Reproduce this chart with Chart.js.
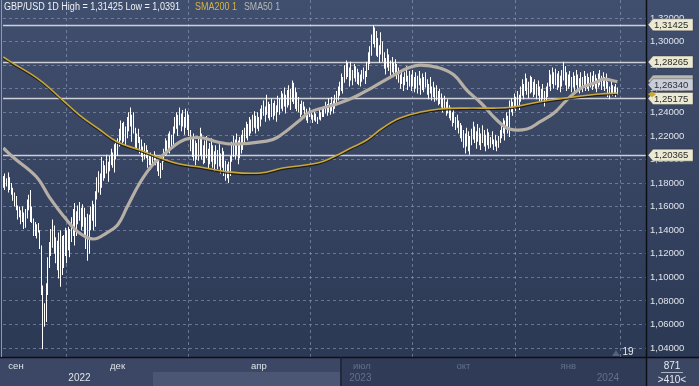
<!DOCTYPE html>
<html>
<head>
<meta charset="utf-8">
<script src="https://cdn.jsdelivr.net/npm/chart.js@4.4.1/dist/chart.umd.min.js"></script>
<style>
html,body{margin:0;padding:0;background:#34415e;overflow:hidden}
</style>
</head>
<body>
<canvas id="chart" width="699" height="386"></canvas>
<script>
// bar index 0 = 1 Sep 2022, one index per trading day
const firstIndex = -8

const highs = [
1.186,1.188,1.184,1.189,1.185,1.180, 1.176,1.172,1.169,
1.161,1.160,1.157,1.160,1.155, 1.158,1.166,1.170,1.174,1.160,
1.150,1.147,1.145,1.146,1.140, 1.127,1.093,1.078,1.095,1.117,
1.130,1.141,1.149,1.144,1.134, 1.131,1.138,1.140,1.135,1.136,
1.142,1.140,1.143,1.141, 1.151,1.158,1.163,1.156, 1.161,1.164,1.159,1.162,
1.159,1.151,1.154,1.153, 1.160,1.165,1.162,1.173, 1.185,1.190,1.188,1.202,
1.199,1.195,1.204,1.198,1.203, 1.209,1.206,1.213,1.216,
1.218,1.226,1.233,1.231,1.232,1.228, 1.236,1.240,1.244,1.238,1.240,
1.227,1.222,1.226,1.219, 1.217,1.211,1.214,1.212,
1.208,1.203,1.206,1.204,1.207,1.204, 1.200,1.202,1.197,1.199,
1.209,1.218,1.216,1.222,1.224,1.221,1.228,
1.236,1.240,1.238,1.244,1.239,1.242,1.236,1.243,1.241,1.238,
1.225,1.219,1.222,1.216,1.214,
1.218,1.227,1.222,1.212,1.216,1.220,1.209,1.214,1.218,1.212,1.207,
1.212,1.208,1.213,1.205,1.210,1.207,1.199,1.196,1.198,1.203,
1.215,1.220,1.217,1.222,1.216,1.219,1.221,1.225,
1.227,1.232,1.230,1.236,1.234,1.238,1.241,1.237,1.240,1.236,1.243,
1.246,1.250,1.245,1.255,1.249,1.247,1.252,1.248,1.250,1.246,
1.254,1.252,1.258,1.256,1.261,1.255,1.259,1.263,1.260,1.267,1.265,1.261,1.257,
1.253,1.247,1.250,1.249,
1.245,1.243,1.240,1.244,1.242,1.238,1.241,1.239,1.236,1.242,1.240,1.243,
1.245,1.249,1.247,1.252,1.248,1.253,1.250,1.255,1.258,
1.262,1.266,1.273,1.270,
1.280,1.284,1.282,1.278,1.283,1.276,1.281,1.279,1.277,
1.274,1.272,1.276,1.278,1.275,1.283,
1.291,1.296,1.306,1.314,1.312,1.309,
1.303,1.297,1.308,1.300,
1.291,1.286,1.294,1.289,1.284,1.287,1.282,1.285,1.281,
1.278,1.272,1.276,1.270,1.274,1.279,1.271,1.275,
1.272,1.276,1.270,1.274,1.271,1.275,1.269,1.273,1.270,1.274,
1.268,1.264,1.270,1.262,1.266,1.261,1.263,1.258,1.260,
1.256,1.252,1.254,1.249,1.251,1.246,
1.244,1.240,1.242,1.236,1.238,1.233,1.231,
1.229,1.225,1.222,1.227,1.224,1.220,
1.226,1.232,1.228,1.224,1.230,1.227,1.222,1.229,1.225,1.221,1.226,1.223,
1.219,1.224,1.217,1.221,1.216,1.220,1.225,
1.230,1.235,1.233,1.240,1.237,1.250,
1.252,1.249,1.256,1.253,1.258,1.255,
1.262,1.268,1.264,1.273,1.269,1.266,1.271,
1.270,1.266,1.268,1.264,1.267,1.262,
1.260,1.264,1.258,1.262,1.265,
1.276,1.272,1.278,1.274,1.277,1.273,1.275,1.271,
1.276,1.283,1.279,1.274,
1.272,1.275,1.270,1.274,1.271,1.276,1.272,1.269,1.274,1.270,1.275,1.271,1.273,
1.270,1.274,1.271,1.275,1.272,1.269,1.273,1.276,1.271,1.274,1.270,1.273,
1.266,1.262,1.268,1.263,1.262,1.264,1.261
]

const lows = [
1.176,1.174,1.177,1.172,1.174,1.170, 1.165,1.160,1.157,
1.149,1.151,1.145,1.147,1.141, 1.142,1.150,1.157,1.147,1.146,
1.135,1.135,1.133,1.138,1.124, 1.085,1.039,1.058,1.062,1.085,
1.108,1.118,1.125,1.120,1.112, 1.106,1.099,1.092,1.102,1.108,
1.118,1.112,1.123,1.117, 1.130,1.135,1.127,1.135, 1.145,1.148,1.140,1.143,
1.134,1.124,1.114,1.120, 1.140,1.148,1.140,1.143, 1.166,1.172,1.170,1.176,
1.182,1.184,1.188,1.181,1.190, 1.195,1.193,1.189,1.200,
1.203,1.211,1.216,1.214,1.215,1.212, 1.218,1.224,1.228,1.215,1.222,
1.210,1.208,1.214,1.205, 1.202,1.198,1.200,1.201,
1.193,1.195,1.191,1.196,1.199,1.195, 1.190,1.186,1.184,1.191,
1.198,1.203,1.204,1.208,1.205,1.210,1.212,
1.222,1.226,1.220,1.229,1.224,1.228,1.221,1.227,1.225,1.220,
1.207,1.202,1.199,1.195,1.200,
1.199,1.203,1.200,1.196,1.197,1.201,1.192,1.196,1.198,1.193,1.190,
1.196,1.192,1.194,1.188,1.193,1.186,1.182,1.184,1.180,1.186,
1.198,1.202,1.200,1.204,1.196,1.201,1.205,1.208,
1.213,1.218,1.216,1.220,1.222,1.224,1.227,1.222,1.226,1.224,1.228,
1.234,1.237,1.232,1.238,1.235,1.233,1.236,1.234,1.237,1.232,
1.240,1.238,1.243,1.241,1.245,1.239,1.244,1.246,1.242,1.249,1.247,1.243,1.241,
1.240,1.236,1.238,1.242,
1.235,1.233,1.231,1.236,1.234,1.231,1.233,1.232,1.230,1.234,1.233,1.236,
1.236,1.239,1.237,1.240,1.238,1.241,1.239,1.243,1.246,
1.250,1.254,1.258,1.256,
1.265,1.268,1.270,1.262,1.267,1.263,1.269,1.266,1.264,
1.263,1.262,1.266,1.268,1.264,1.270,
1.276,1.281,1.288,1.298,1.295,1.288,
1.287,1.282,1.289,1.283,
1.277,1.272,1.278,1.275,1.271,1.274,1.270,1.273,1.268,
1.265,1.260,1.264,1.258,1.263,1.266,1.259,1.262,
1.258,1.262,1.257,1.260,1.256,1.263,1.255,1.259,1.257,1.261,
1.255,1.251,1.256,1.250,1.253,1.249,1.250,1.246,1.247,
1.244,1.240,1.242,1.237,1.239,1.235,
1.233,1.228,1.231,1.225,1.227,1.222,1.218,
1.215,1.210,1.205,1.211,1.207,1.204,
1.212,1.217,1.214,1.209,1.215,1.212,1.208,1.214,1.211,1.207,1.212,1.209,
1.210,1.213,1.208,1.211,1.207,1.210,1.214,
1.218,1.222,1.216,1.226,1.222,1.219,
1.240,1.237,1.243,1.241,1.245,1.242,
1.249,1.254,1.251,1.258,1.255,1.252,1.256,
1.257,1.253,1.255,1.251,1.254,1.249,
1.248,1.251,1.245,1.249,1.253,
1.262,1.258,1.264,1.260,1.263,1.259,1.261,1.257,
1.262,1.267,1.263,1.258,
1.260,1.262,1.257,1.261,1.258,1.263,1.259,1.256,1.261,1.257,1.262,1.258,1.260,
1.258,1.261,1.259,1.262,1.260,1.257,1.261,1.263,1.259,1.262,1.258,1.260,
1.253,1.251,1.255,1.254,1.256,1.253,1.255
]

const sma50Index = [-8,-2,13,21,32,40,49,57,64,70,78,86,95,103,110,118,127,137,158,165,179,185,200,212,225,236,247,255,267,276,284,293,303,311,322,330,339,347,356,366,370,379]
const sma50 = [1.2097,1.2021,1.1851,1.1681,1.1486,1.1376,1.1325,1.1376,1.1444,1.1596,1.1800,1.1953,1.2063,1.2148,1.2182,1.2182,1.2148,1.2131,1.2156,1.2190,1.2335,1.2402,1.2462,1.2521,1.2614,1.2699,1.2776,1.2801,1.2776,1.2716,1.2589,1.2479,1.2335,1.2258,1.2258,1.2318,1.2394,1.2504,1.2606,1.2657,1.2682,1.2660]

const sma200Index = [-8,-2,15,28,40,53,64,78,91,103,116,135,154,168,190,200,211,221,231,242,255,267,284,301,313,326,337,351,368,379]
const sma200 = [1.2869,1.2818,1.2674,1.2521,1.2377,1.2250,1.2148,1.2080,1.2012,1.1961,1.1936,1.1893,1.1885,1.1927,1.1970,1.2021,1.2097,1.2165,1.2267,1.2351,1.2402,1.2428,1.2436,1.2436,1.2445,1.2479,1.2504,1.2530,1.2555,1.2564]

const levels = [1.31425,1.28265,1.25175,1.20365]
const lastPrice = 1.2634
const sma50Last = 1.2665
const sma200Last = 1.2553

const yTicks = [1.04,1.06,1.08,1.10,1.12,1.14,1.16,1.18,1.20,1.22,1.24,1.26,1.28,1.30,1.32]
const monthIndex = [0,64,153,218,282,348]
const monthLabels = ['сен','дек','апр','июл','окт','янв']
const yearIndex = [40,217,373]
const yearLabels = ['2022','2023','2024']

const FONT = "'Liberation Sans', Arial, sans-serif"
const fmt = v => v.toFixed(5).replace('.', ',')

const bars = highs.map((h,k)=>({x:firstIndex+k, y:[lows[k], h]}))

// draws text squeezed to a given width (the source uses a narrow UI font)
const fitText = (ctx, text, x0, y0, width, color) => {
const w = ctx.measureText(text).width
ctx.save()
ctx.translate(x0,y0)
ctx.scale(width/w,1)
ctx.fillStyle = color
ctx.fillText(text,0,0)
ctx.restore()
}

const bgPlugin = {
id:'bg',
beforeDraw(chart){
const {ctx, width, height, chartArea:a} = chart
ctx.save()
const g = ctx.createLinearGradient(0,0,0,a.bottom)
g.addColorStop(0,'#414f6e')
g.addColorStop(1,'#2c3955')
ctx.fillStyle = g
ctx.fillRect(0,0,width,a.bottom)
ctx.fillStyle = '#3b4764'
ctx.fillRect(0,a.bottom,width,height-a.bottom)
ctx.fillStyle = '#303c57'
ctx.fillRect(340,a.bottom,a.right-340,height-a.bottom)
ctx.fillStyle = '#4a5673'
ctx.fillRect(153,372,187,height-372)
ctx.fillStyle = '#3a4662'
ctx.fillRect(a.right,a.bottom,width-a.right,height-a.bottom)
ctx.restore()
},
beforeDatasetsDraw(chart){
const {ctx, chartArea:a, scales:{y}} = chart
ctx.save()
ctx.strokeStyle = '#cdd0d6'
ctx.lineWidth = 1.3
levels.forEach(v=>{
const py = Math.round(y.getPixelForValue(v))+0.5
ctx.beginPath(); ctx.moveTo(a.left,py); ctx.lineTo(a.right,py); ctx.stroke()
})
ctx.restore()
},
beforeDatasetDraw(chart, args){
const meta = args.meta
if (meta.type === 'bar') {
// snap the 1px bars to whole pixels so they stay crisp
meta.data.forEach(el=>{ el.x = Math.floor(el.x) + 0.5 })
}
if (meta.label === 'SMA200') {
chart.ctx.save()
chart.ctx.shadowColor = 'rgba(25,22,10,0.85)'
chart.ctx.shadowOffsetY = 1.2
chart.ctx.shadowBlur = 0
}
},
afterDatasetDraw(chart, args){
if (args.meta.label === 'SMA200') chart.ctx.restore()
},
afterDraw(chart){
const {ctx, width, height, chartArea:a, scales:{x,y}} = chart
ctx.save()
// frame lines
ctx.strokeStyle = '#0c0f16'
ctx.lineWidth = 1.5
ctx.beginPath(); ctx.moveTo(0,a.bottom+0.5); ctx.lineTo(width,a.bottom+0.5); ctx.stroke()
ctx.beginPath(); ctx.moveTo(a.right+0.5,0); ctx.lineTo(a.right+0.5,height); ctx.stroke()
ctx.strokeStyle = '#1b2232'
ctx.beginPath(); ctx.moveTo(341,a.bottom); ctx.lineTo(341,height); ctx.stroke()
ctx.strokeStyle = '#8d99b0'
ctx.lineWidth = 1
ctx.beginPath(); ctx.moveTo(1.5,0); ctx.lineTo(1.5,a.bottom); ctx.stroke()

// header and legend
ctx.textBaseline = 'middle'
ctx.font = '10px ' + FONT
fitText(ctx,'GBP/USD 1D High = 1,31425 Low = 1,0391',4,7,176,'#eef0f4')
fitText(ctx,'SMA200 1',195,7,42,'#d8b33c')
fitText(ctx,'SMA50 1',244,7,36,'#b5b5b5')

// year labels
ctx.font = '10px ' + FONT
ctx.textAlign = 'center'
yearLabels.forEach((t,i)=>{
ctx.fillStyle = i===0 ? '#dfe3ea' : '#65718b'
ctx.fillText(t, x.getPixelForValue(yearIndex[i]), 378)
})

// value tags on the price axis
const tag = (v, bg, text, fg) => {
const py = y.getPixelForValue(v)
ctx.beginPath()
ctx.moveTo(a.right+2,py)
ctx.lineTo(a.right+7,py-6)
ctx.lineTo(width-6,py-6)
ctx.lineTo(width-6,py+6)
ctx.lineTo(a.right+7,py+6)
ctx.closePath()
ctx.fillStyle = bg
ctx.fill()
ctx.strokeStyle = 'rgba(40,40,40,0.35)'
ctx.lineWidth = 1
ctx.stroke()
if (text) {
ctx.fillStyle = fg
ctx.textAlign = 'left'
ctx.font = '9.5px ' + FONT
ctx.fillText(text, a.right+8, py+0.5)
}
}
tag(sma50Last,'#b9b7b2','', '#222')
tag(lastPrice,'#c9cdd8',fmt(lastPrice),'#2b2f3a')
levels.forEach(v=>tag(v,'#ebe9d2',fmt(v),'#2a2a2a'))
// sma200 marker
const p2 = y.getPixelForValue(sma200Last)
ctx.fillStyle = '#c9a73a'
ctx.beginPath()
ctx.moveTo(a.right+2,p2); ctx.lineTo(a.right+6,p2-3); ctx.lineTo(a.right+10,p2); ctx.lineTo(a.right+6,p2+3)
ctx.closePath(); ctx.fill()

// bar count box
ctx.textAlign = 'center'
ctx.font = '10px ' + FONT
ctx.fillStyle = '#e6e9ef'
ctx.fillText('871', 672, 366)
ctx.fillText('>410<', 672, 380)
ctx.strokeStyle = '#aab3c4'
ctx.beginPath(); ctx.moveTo(661,372.5); ctx.lineTo(683,372.5); ctx.stroke()

// marker near the last bar
ctx.fillStyle = '#55627c'
ctx.beginPath(); ctx.moveTo(612,356); ctx.lineTo(616,350); ctx.lineTo(620,356); ctx.closePath(); ctx.fill()
ctx.fillStyle = '#e8ebf0'
ctx.fillText('19', 628, 352)
ctx.restore()
}
}

new Chart(document.getElementById('chart'), {
type:'bar',
data:{
datasets:[
{
type:'line',
label:'SMA50',
data:sma50Index.map((i,k)=>({x:i, y:sma50[k]})),
borderColor:'#b6afa5',
borderWidth:3.2,
pointRadius:0,
tension:0.4,
order:2
},
{
type:'line',
label:'SMA200',
data:sma200Index.map((i,k)=>({x:i, y:sma200[k]})),
borderColor:'#c9a73a',
borderWidth:1.6,
pointRadius:0,
tension:0.4,
order:1
},
{
type:'bar',
label:'GBP/USD',
data:bars,
backgroundColor:'#ffffff',
borderWidth:0,
barThickness:1,
inflateAmount:0,
order:3
}
]
},
plugins:[bgPlugin],
options:{
responsive:false,
devicePixelRatio:1,
animation:false,
layout:{padding:{left:3,right:0,top:0,bottom:0}},
plugins:{legend:{display:false}, tooltip:{enabled:false}},
scales:{
x:{
type:'linear',
min:-8.2,
max:397,
offset:false,
grid:{color:'rgba(150,165,195,0.55)', drawTicks:false, lineWidth:1},
border:{display:false, dash:[3,3]},
afterBuildTicks:s=>{ s.ticks = monthIndex.map(v=>({value:v})) },
afterFit:s=>{ s.height = 29; s.paddingLeft = 0; s.paddingRight = 0 },
ticks:{
autoSkip:false,
maxRotation:0,
padding:4,
font:{family:FONT, size:9.5},
color:c=>c.index<3 ? '#dfe3ea' : '#65718b',
callback:(v,i)=>monthLabels[i]
}
},
y:{
position:'right',
min:1.0324,
max:1.3353,
grid:{color:'rgba(150,165,195,0.55)', drawTicks:false, lineWidth:1},
border:{display:false, dash:[3,3]},
afterBuildTicks:s=>{ s.ticks = yTicks.map(v=>({value:v})) },
afterFit:s=>{ s.width = 53; s.paddingTop = 0; s.paddingBottom = 0 },
ticks:{
padding:4,
font:{family:FONT, size:9.5},
color:'#dfe3ea',
callback:v=>fmt(v)
}
}
}
}
})
</script>
</body>
</html>
